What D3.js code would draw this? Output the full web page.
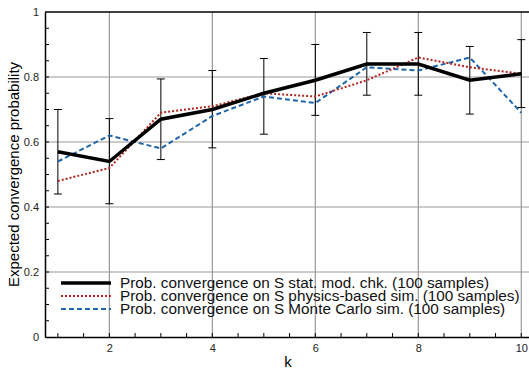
<!DOCTYPE html>
<html>
<head>
<meta charset="utf-8">
<script src="https://cdn.jsdelivr.net/npm/d3@7"></script>
<style>
  body { margin: 0; background: #fff; }
  svg { display: block; font-family: "Liberation Sans", Arial, sans-serif; }
</style>
</head>
<body>
<div id="chart"></div>
<script>
// Data
const ks = [1, 2, 3, 4, 5, 6, 7, 8, 9, 10];
const statModChk = [0.57, 0.54, 0.67, 0.70, 0.75, 0.79, 0.84, 0.84, 0.79, 0.81];
const errLow = [0.44, 0.41, 0.546, 0.582, 0.624, 0.682, 0.744, 0.744, 0.686, 0.706];
const errHigh = [0.70, 0.672, 0.794, 0.82, 0.857, 0.90, 0.937, 0.937, 0.894, 0.915];
const physicsSim = [0.48, 0.52, 0.69, 0.71, 0.75, 0.74, 0.79, 0.86, 0.83, 0.81];
const monteCarlo = [0.54, 0.62, 0.58, 0.68, 0.74, 0.72, 0.83, 0.82, 0.86, 0.69];
const xTicks = [2, 4, 6, 8, 10];
const yTicks = [0, 0.2, 0.4, 0.6, 0.8, 1];

const series = [
  { name: "Prob. convergence on S stat. mod. chk. (100 samples)", values: statModChk,
    color: "#000", width: 3.5, dash: null },
  { name: "Prob. convergence on S physics-based sim. (100 samples)", values: physicsSim,
    color: "#b2261e", width: 2, dash: "2,2" },
  { name: "Prob. convergence on S Monte Carlo sim. (100 samples)", values: monteCarlo,
    color: "#1f65a8", width: 2, dash: "5,3" }
];

const W = 529, H = 370;
const plotLeft = 45, plotTop = 12, plotBottom = 337;

const x = d3.scaleLinear().domain([0.75, 10.15]).range([plotLeft, W]);
const y = d3.scaleLinear().domain([0, 1]).range([plotBottom, plotTop]);

const svg = d3.select("#chart").append("svg")
  .attr("width", W).attr("height", H);

svg.append("defs").append("clipPath").attr("id", "clip")
  .append("rect").attr("x", plotLeft).attr("y", plotTop - 5)
  .attr("width", W - plotLeft).attr("height", plotBottom - plotTop + 5);

// Grid
const grid = svg.append("g").attr("stroke", "#999").attr("stroke-width", 1.2);
grid.selectAll(".vg").data(xTicks).join("line")
  .attr("x1", d => x(d)).attr("x2", d => x(d))
  .attr("y1", plotTop).attr("y2", plotBottom);
grid.selectAll(".hg").data(yTicks.slice(1, -1)).join("line")
  .attr("x1", plotLeft).attr("x2", W)
  .attr("y1", d => y(d)).attr("y2", d => y(d));

// Axes
const xAxis = svg.append("g")
  .attr("transform", `translate(0,${plotBottom})`)
  .call(d3.axisBottom(x).tickValues(xTicks).tickSize(0).tickPadding(7));
xAxis.select(".domain").attr("stroke", "#000").attr("stroke-width", 1.5);
xAxis.selectAll("text").style("font-size", "11px").attr("fill", "#222");

// x minor ticks (inside)
svg.append("g").selectAll("line").data(d3.range(1, 10.01, 0.5)).join("line")
  .attr("x1", d => x(d)).attr("x2", d => x(d))
  .attr("y1", plotBottom).attr("y2", plotBottom - 4)
  .attr("stroke", "#000").attr("stroke-width", 1);

const yAxis = svg.append("g")
  .attr("transform", `translate(${plotLeft},0)`)
  .call(d3.axisLeft(y).tickValues(yTicks).tickSize(0).tickPadding(6)
    .tickFormat(d => d === 0 || d === 1 ? d3.format("d")(d) : d3.format(".1f")(d)));
yAxis.select(".domain").attr("stroke", "#000").attr("stroke-width", 1.5);
yAxis.selectAll("text").style("font-size", "11px").attr("fill", "#222");

// y minor ticks (inside)
svg.append("g").selectAll("line").data(d3.range(0.05, 1, 0.05)).join("line")
  .attr("x1", plotLeft).attr("x2", plotLeft + 4)
  .attr("y1", d => y(d)).attr("y2", d => y(d))
  .attr("stroke", "#000").attr("stroke-width", 1);

// Top frame line
svg.append("line")
  .attr("x1", plotLeft).attr("x2", W).attr("y1", plotTop).attr("y2", plotTop)
  .attr("stroke", "#000").attr("stroke-width", 1.5);

const plot = svg.append("g").attr("clip-path", "url(#clip)");

// Error bars
const eb = plot.append("g").attr("stroke", "#000").attr("stroke-width", 1);
ks.forEach((k, i) => {
  eb.append("line").attr("x1", x(k)).attr("x2", x(k))
    .attr("y1", y(errLow[i])).attr("y2", y(errHigh[i]));
  [errLow[i], errHigh[i]].forEach(v => {
    eb.append("line").attr("x1", x(k) - 4).attr("x2", x(k) + 4)
      .attr("y1", y(v)).attr("y2", y(v));
  });
});

// Lines
const line = d3.line().x((d, i) => x(ks[i])).y(d => y(d));
series.slice().reverse().forEach(s => {
  plot.append("path")
    .datum(s.values)
    .attr("fill", "none")
    .attr("stroke", s.color)
    .attr("stroke-width", s.width)
    .attr("stroke-dasharray", s.dash)
    .attr("stroke-linejoin", "miter")
    .attr("d", line);
});

// Legend (rows are packed tightly, as in the reference)
const legend = svg.append("g").attr("transform", "translate(61,283)");
series.forEach((s, i) => {
  const row = legend.append("g").attr("transform", `translate(0,${i * 13})`);
  row.append("line")
    .attr("x1", 0).attr("x2", 50).attr("y1", 0).attr("y2", 0)
    .attr("stroke", s.color)
    .attr("stroke-width", s.width)
    .attr("stroke-dasharray", s.dash);
  row.append("text")
    .attr("x", 59).attr("y", 5)
    .style("font-size", "15.3px")
    .attr("fill", "#111")
    .text(s.name);
});

// Axis labels
svg.append("text")
  .attr("x", 288).attr("y", 367)
  .attr("text-anchor", "middle")
  .style("font-size", "15px")
  .text("k");

svg.append("text")
  .attr("transform", "rotate(-90)")
  .attr("x", -(plotTop + plotBottom) / 2).attr("y", 19)
  .attr("text-anchor", "middle")
  .style("font-size", "15px")
  .text("Expected convergence probability");
</script>
</body>
</html>
